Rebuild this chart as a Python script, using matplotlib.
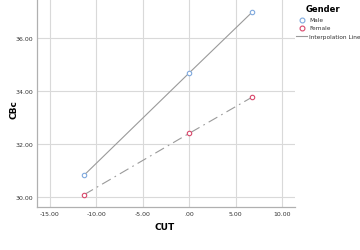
import numpy as np
import matplotlib.pyplot as plt

# data
cut = [-11.3, 0.0, 6.8]
male_cbc = [30.83, 34.68, 36.98]
female_cbc = [30.09, 32.40, 33.77]

fig = plt.figure(figsize=(3.6, 2.51), dpi=100)
ax = fig.add_axes([37 / 360, 43 / 251, 258 / 360, 208 / 251])

grid_col = '#d9d9d9'
line_col = '#9a9a9a'

ax.plot(cut, male_cbc, '-', color=line_col, lw=0.8, zorder=2)
ax.plot(cut, female_cbc, linestyle=(0, (9, 4, 1.5, 4)), color=line_col, lw=0.8, zorder=2)
ax.plot(cut, male_cbc, 'o', ms=3.2, mfc='white', mec='#7fa9de', mew=0.8, zorder=3)
ax.plot(cut, female_cbc, 'o', ms=3.2, mfc='white', mec='#d9476b', mew=0.8, zorder=3)

ax.set_xlim(-16.4, 11.4)
ax.set_ylim(29.62, 37.47)
ax.set_xticks([-15, -10, -5, 0, 5, 10])
ax.set_xticklabels(['-15.00', '-10.00', '-5.00', '.00', '5.00', '10.00'])
ax.set_yticks([30, 32, 34, 36])
ax.set_yticklabels(['30.00', '32.00', '34.00', '36.00'])
ax.tick_params(labelsize=4.5, length=0, pad=3, colors='#333333')
ax.grid(True, color=grid_col, lw=0.8)
ax.set_axisbelow(True)
for s in ['top', 'right']:
    ax.spines[s].set_visible(False)
for s in ['left', 'bottom']:
    ax.spines[s].set_color('#b0b0b0')
    ax.spines[s].set_linewidth(0.9)

fig.text(165 / 360, 1 - 228 / 251, 'CUT', ha='center', va='center',
         fontsize=6.5, fontweight='bold')
fig.text(14 / 360, 1 - 110 / 251, 'CBc', ha='center', va='center',
         fontsize=6.5, fontweight='bold', rotation=90)

# legend
fig.text(323 / 360, 1 - 10 / 251, 'Gender', ha='center', va='center',
         fontsize=6, fontweight='bold')
fig.lines.append(plt.Line2D([302 / 360], [1 - 21 / 251], marker='o', ms=3.5,
                            mfc='white', mec='#7fa9de', mew=0.8, transform=fig.transFigure))
fig.lines.append(plt.Line2D([302 / 360], [1 - 29 / 251], marker='o', ms=3.5,
                            mfc='white', mec='#d9476b', mew=0.8, transform=fig.transFigure))
fig.lines.append(plt.Line2D([296 / 360, 307 / 360], [1 - 37 / 251, 1 - 37 / 251],
                            color=line_col, lw=0.8, transform=fig.transFigure))
fig.text(309 / 360, 1 - 21 / 251, 'Male', va='center', fontsize=4.2, color='#333333')
fig.text(309 / 360, 1 - 29 / 251, 'Female', va='center', fontsize=4.2, color='#333333')
fig.text(309 / 360, 1 - 37 / 251, 'Interpolation Line', va='center', fontsize=4.2, color='#333333')

fig.savefig('out.png', dpi=100)
